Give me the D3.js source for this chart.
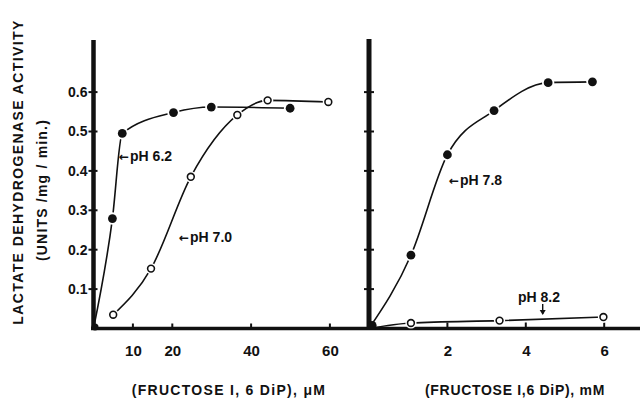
<!DOCTYPE html>
<html><head><meta charset="utf-8">
<script src="https://cdn.jsdelivr.net/npm/d3@7"></script>
<style>
html,body{margin:0;padding:0;background:#fff;}
svg{display:block;}
text{font-family:"Liberation Sans",Arial,sans-serif;font-weight:bold;fill:#111;}
</style></head>
<body>
<svg id="chart" width="640" height="399"></svg>
<script>
// ---- data ----
const yTicks = [0.1, 0.2, 0.3, 0.4, 0.5, 0.6];
const leftXTicks = [10, 20, 40, 60];
const rightXTicks = [2, 4, 6];

// left panel, fructose 1,6 DiP in µM
const ph62 = [[0, 0], [4.8, 0.279], [7.3, 0.495], [20.3, 0.548], [29.9, 0.562], [49.9, 0.559]];
const ph70 = [[5.0, 0.035], [14.6, 0.152], [24.7, 0.385], [36.5, 0.542], [44.2, 0.579], [59.6, 0.575]];
// right panel, fructose 1,6 DiP in mM
const ph78 = [[0, 0], [1.07, 0.186], [2.0, 0.441], [3.19, 0.553], [4.57, 0.624], [5.70, 0.626]];
const ph82 = [[0, 0], [1.07, 0.014], [3.33, 0.020], [5.98, 0.029]];

const FONT = '"Liberation Sans",Arial,sans-serif';
const svg = d3.select("#chart");
svg.append("rect").attr("width", 640).attr("height", 399).attr("fill", "#fff");

const y = d3.scaleLinear().domain([0, 0.7]).range([328.5, 52.7]);
const xL = d3.scaleLinear().domain([0, 70]).range([93.5, 369.3]);
const xR = d3.scaleLinear().domain([0, 7]).range([369, 643.4]);

// ---- axes ----
const axisY = d3.axisLeft(y).tickValues(yTicks).tickSize(0).tickPadding(6).tickFormat(d3.format(".1f"));
const gY = svg.append("g").attr("transform", `translate(${xL(0)},0)`).call(axisY);
gY.select(".domain").remove();
gY.selectAll("text").style("font-size", "14px").style("font-family", FONT).style("font-weight", "bold").attr("fill", "#111");

// y tick marks (left and right axis)
svg.append("g").selectAll("line").data(yTicks).join("line")
  .attr("x1", xL(0) - 5).attr("x2", xL(0) + 4)
  .attr("y1", d => y(d)).attr("y2", d => y(d))
  .attr("stroke", "#111").attr("stroke-width", 2);
svg.append("g").selectAll("line").data(yTicks).join("line")
  .attr("x1", xR(0) - 5).attr("x2", xR(0) + 5)
  .attr("y1", d => y(d)).attr("y2", d => y(d))
  .attr("stroke", "#111").attr("stroke-width", 2);

// x axes
const fmtInt = d3.format("d");
const axisXL = d3.axisBottom(xL).tickValues(leftXTicks).tickFormat(fmtInt).tickSize(0).tickPadding(17);
const gXL = svg.append("g").attr("transform", `translate(0,${y(0)})`).call(axisXL);
gXL.select(".domain").remove();
const axisXR = d3.axisBottom(xR).tickValues(rightXTicks).tickFormat(fmtInt).tickSize(0).tickPadding(17);
const gXR = svg.append("g").attr("transform", `translate(0,${y(0)})`).call(axisXR);
gXR.select(".domain").remove();
[gXL, gXR].forEach(g => g.selectAll("text").style("font-size", "15px").style("font-family", FONT)
  .style("font-weight", "bold").attr("fill", "#111"));

svg.append("g").selectAll("line").data(leftXTicks).join("line")
  .attr("x1", d => xL(d)).attr("x2", d => xL(d))
  .attr("y1", y(0) - 5).attr("y2", y(0))
  .attr("stroke", "#111").attr("stroke-width", 2);
svg.append("g").selectAll("line").data(rightXTicks).join("line")
  .attr("x1", d => xR(d)).attr("x2", d => xR(d))
  .attr("y1", y(0) - 6).attr("y2", y(0))
  .attr("stroke", "#111").attr("stroke-width", 2);

// thick axis lines
svg.append("line").attr("x1", 91).attr("x2", 640).attr("y1", y(0)).attr("y2", y(0))
  .attr("stroke", "#111").attr("stroke-width", 3.5);
svg.append("line").attr("x1", xL(0)).attr("x2", xL(0)).attr("y1", 40).attr("y2", y(0) + 1.5)
  .attr("stroke", "#111").attr("stroke-width", 4.5);
svg.append("line").attr("x1", xR(0)).attr("x2", xR(0)).attr("y1", 39).attr("y2", y(0) + 1.5)
  .attr("stroke", "#111").attr("stroke-width", 5);

// ---- curves ----
function drawSeries(data, xs, filled, skipFirstMarker) {
  const line = d3.line().x(d => xs(d[0])).y(d => y(d[1])).curve(d3.curveMonotoneX);
  svg.append("path").attr("d", line(data)).attr("fill", "none")
    .attr("stroke", "#111").attr("stroke-width", 1.6);
  const pts = skipFirstMarker ? data.slice(1) : data;
  // white halo to create small gaps around markers
  svg.append("g").selectAll("circle").data(pts).join("circle")
    .attr("cx", d => xs(d[0])).attr("cy", d => y(d[1]))
    .attr("r", filled ? 6.2 : 5.6).attr("fill", "#fff");
  svg.append("g").selectAll("circle").data(pts).join("circle")
    .attr("cx", d => xs(d[0])).attr("cy", d => y(d[1]))
    .attr("r", filled ? 4.4 : 3.4)
    .attr("fill", filled ? "#111" : "#fff")
    .attr("stroke", "#111").attr("stroke-width", filled ? 0 : 1.6);
}
drawSeries(ph70, xL, false, false);
drawSeries(ph62, xL, true, true);
drawSeries(ph82, xR, false, true);
drawSeries(ph78, xR, true, true);

// origin blobs
svg.append("circle").attr("cx", xL(0) + 1.5).attr("cy", y(0) - 1.5).attr("r", 3.5).attr("fill", "#111");
svg.append("circle").attr("cx", xR(0) + 3).attr("cy", y(0) - 3).attr("r", 4.6).attr("fill", "#111");

// ---- annotations ----
function label(txt, x0, y0) {
  const t = svg.append("text").attr("x", x0).attr("y", y0).style("font-size", "14px");
  t.append("tspan").style("font-family", '"DejaVu Sans",sans-serif').style("font-size", "12px").text("\u2190");
  t.append("tspan").attr("dx", 1).text(txt);
}
label("pH 6.2", 119, 161);
label("pH 7.0", 179, 242);
label("pH  7.8", 449, 184.5);
svg.append("text").attr("x", 518).attr("y", 302).style("font-size", "14px").text("pH 8.2");
svg.append("line").attr("x1", 542.7).attr("x2", 542.7).attr("y1", 304).attr("y2", 314)
  .attr("stroke", "#111").attr("stroke-width", 1.4);
svg.append("path").attr("d", "M539.7,310 L542.7,315 L545.7,310 Z").attr("fill", "#111");

// ---- titles ----
svg.append("text").attr("transform", "translate(23,172) rotate(-90)")
  .attr("text-anchor", "middle").style("font-size", "14px").style("letter-spacing", "1.4px")
  .text("LACTATE  DEHYDROGENASE  ACTIVITY");
svg.append("text").attr("transform", "translate(47,190) rotate(-90)")
  .attr("text-anchor", "middle").style("font-size", "14px").style("letter-spacing", "1.2px")
  .text("(UNITS /mg / min.)");
svg.append("text").attr("x", 229).attr("y", 395).attr("text-anchor", "middle")
  .style("font-size", "14px").style("letter-spacing", "1.3px").text("(FRUCTOSE I, 6 DiP),  \u03bcM");
svg.append("text").attr("x", 515).attr("y", 395).attr("text-anchor", "middle")
  .style("font-size", "14px").style("letter-spacing", "0.7px").text("(FRUCTOSE I,6 DiP), mM");
</script>
</body></html>
